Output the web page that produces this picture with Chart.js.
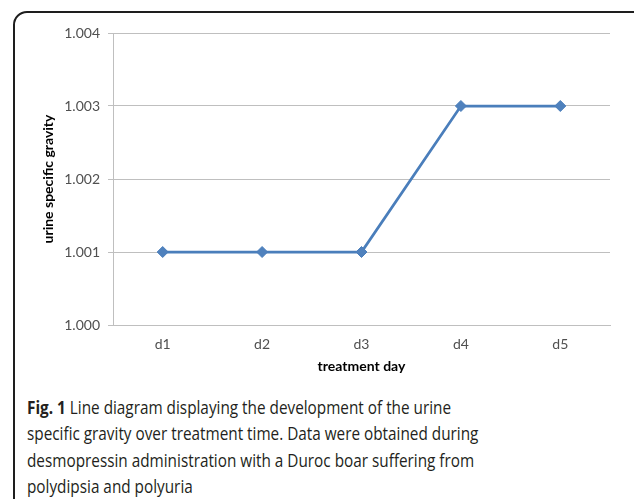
<!DOCTYPE html>
<html>
<head>
<meta charset="utf-8">
<script src="https://cdn.jsdelivr.net/npm/chart.js@4/dist/chart.umd.min.js"></script>
<style>
  html, body { margin: 0; padding: 0; background: #fff; width: 634px; height: 499px; overflow: hidden; }
  #frame { position: absolute; left: 13px; top: 11px; width: 640px; height: 540px; border: 2px solid #1e1e1e; border-radius: 14px; box-sizing: border-box; }
  #wrap { position: absolute; left: 0; top: 0; width: 634px; height: 380px; }
  #caption { position: absolute; left: 27px; top: 394px; width: 700px; font-family: "Open Sans", sans-serif; font-size: 17.5px; line-height: 26.3px; color: #231f20; transform: scaleX(0.875); transform-origin: 0 0; white-space: nowrap; }
  #caption b { font-weight: 700; }
</style>
</head>
<body>
<div id="frame"></div>
<div id="wrap"><canvas id="c" width="634" height="380"></canvas></div>
<div id="caption"><b>Fig. 1</b> Line diagram displaying the development of the urine<br>specific gravity over treatment time. Data were obtained during<br>desmopressin administration with a Duroc boar suffering from<br>polydipsia and polyuria</div>
<script>
const categories = ["d1", "d2", "d3", "d4", "d5"];
const gravity = [1.001, 1.001, 1.001, 1.003, 1.003];
const yMin = 1.000, yMax = 1.004, yStep = 0.001;
const xTitle = "treatment day";
const yTitle = "urine specific gravity";

new Chart(document.getElementById("c"), {
  type: "line",
  data: {
    labels: categories,
    datasets: [{
      data: gravity,
      borderColor: "#4A7EBB",
      backgroundColor: "#4F81BD",
      borderWidth: 2.75,
      pointStyle: "rectRot",
      pointRadius: 5.5,
      pointBorderWidth: 1,
      pointBorderColor: "#4A7EBB",
      pointBackgroundColor: "#4F81BD",
      tension: 0
    }]
  },
  options: {
    responsive: false,
    animation: false,
    layout: { padding: { left: 0, top: 33, right: 24, bottom: 0 } },
    plugins: { legend: { display: false }, tooltip: { enabled: false } },
    scales: {
      x: {
        offset: true,
        grid: { display: false, drawTicks: false },
        border: { display: true, color: "#BFBFBF", width: 1 },
        ticks: { color: "#505050", font: { family: "Lato", size: 14 }, padding: 11 },
        title: { display: true, text: xTitle, color: "#000", font: { family: "Lato", size: 14, weight: "bold" }, padding: { top: 0, bottom: 5 } },
        afterFit: s => { s.height = 55; }
      },
      y: {
        min: yMin, max: yMax,
        ticks: { stepSize: yStep, color: "#505050", font: { family: "Lato", size: 14 }, padding: 8, callback: v => Number(v).toFixed(3) },
        grid: { color: "#BFBFBF", lineWidth: 1, tickLength: 5, drawTicks: true },
        border: { display: true, color: "#BFBFBF", width: 1 },
        title: { display: true, text: yTitle, color: "#000", font: { family: "Lato", size: 14, weight: "bold" }, padding: { top: 40, bottom: 0 } },
        afterFit: s => { s.width = 113; }
      }
    }
  }
});
</script>
</body>
</html>
